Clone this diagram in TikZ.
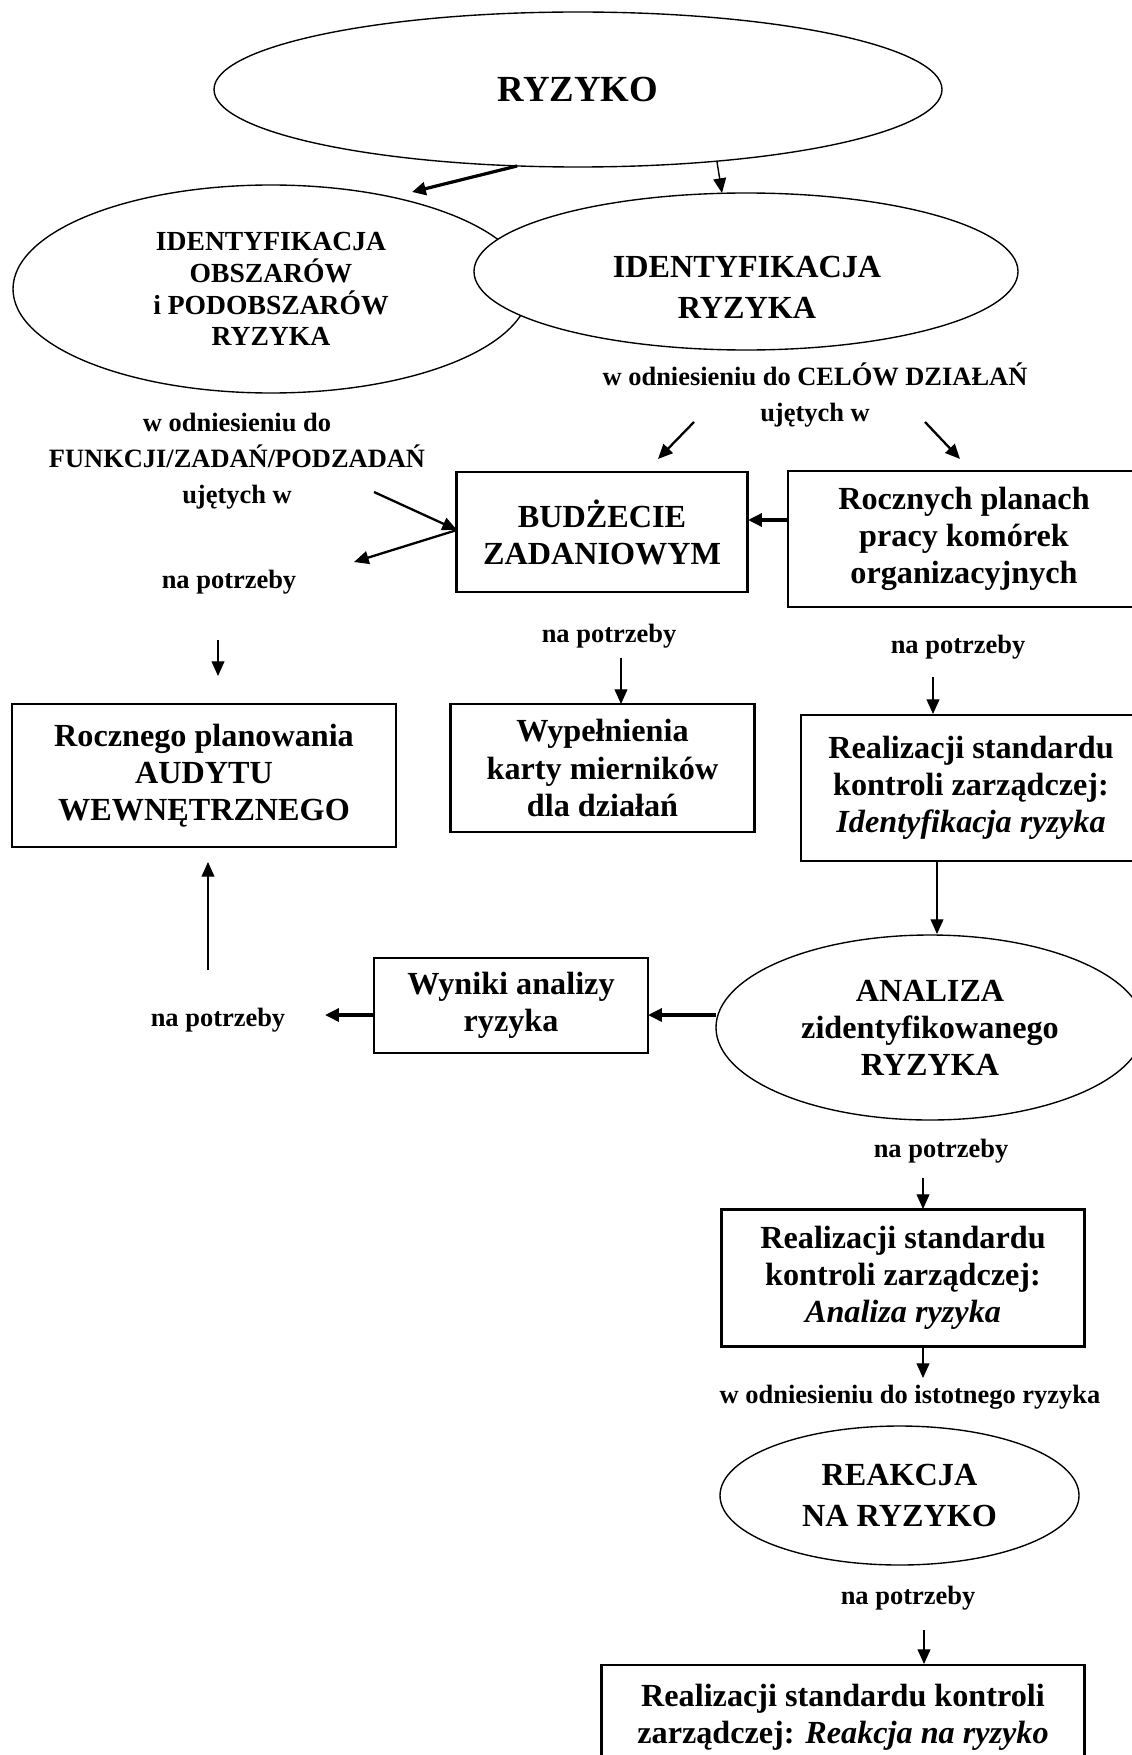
\documentclass[tikz,border=0pt]{standalone}
\usepackage{fontspec}
\setmainfont{Liberation Serif}
\usetikzlibrary{shapes.geometric,arrows.meta}
\def\pxu{0.4348pt}
\tikzset{
  ell/.style={draw, ellipse, inner sep=0pt, line width=0.6pt, fill=white, align=center},
  box/.style={draw, rectangle, inner sep=0pt, line width=0.9pt, fill=white, align=center,
    font=\fontsize{14}{16.1}\selectfont\bfseries},
  lbl/.style={align=center, inner sep=0pt, font=\fontsize{11.5}{15.6}\selectfont\bfseries},
  arr/.style={-{Triangle[length=6.4pt,width=5.6pt]}, line width=0.6pt},
  marr/.style={-{Triangle[length=6.4pt,width=5.6pt]}, line width=1pt},
  tarr/.style={-{Triangle[length=6pt,width=5.6pt]}, line width=1.4pt},
}
\begin{document}
\begin{tikzpicture}[x=\pxu,y=-\pxu]
\clip (0,0) rectangle (1132,1755);
\fill[white] (0,0) rectangle (1132,1755);

% ellipses top
\node[ell, minimum width=728*\pxu, minimum height=155*\pxu,
  font=\fontsize{16}{18}\selectfont\bfseries] (ryz) at (578,89.5) {RYZYKO};
\node[ell, minimum width=516*\pxu, minimum height=208*\pxu,
  font=\fontsize{12}{13.8}\selectfont\bfseries] (idobs) at (271,289)
  {IDENTYFIKACJA\\OBSZARÓW\\i PODOBSZARÓW\\RYZYKA};
\node[ell, minimum width=544*\pxu, minimum height=157*\pxu] (idryz) at (746,271.5) {};
\node[align=center, inner sep=0pt, font=\fontsize{14}{17.8}\selectfont\bfseries]
  (idryzt) at (747,287.5) {IDENTYFIKACJA\\RYZYKA};

% labels
\node[lbl] (l1) at (815,395) {w odniesieniu do CELÓW DZIAŁAŃ\\ujętych w};
\node[lbl] (l2) at (237,461) {w odniesieniu do\\FUNKCJI/ZADAŃ/PODZADAŃ\\ujętych w};
\node[lbl] (l3) at (229,582) {na potrzeby};
\node[lbl] (l4) at (609,636) {na potrzeby};
\node[lbl] (l5) at (958,647) {na potrzeby};
\node[lbl] (l6) at (218,1020) {na potrzeby};
\node[lbl] (l7) at (941,1151) {na potrzeby};
\node[lbl] (l8) at (910,1397) {w odniesieniu do istotnego ryzyka};
\node[lbl] (l9) at (908,1598) {na potrzeby};

% boxes
\node[box, minimum width=291*\pxu, minimum height=120*\pxu] (bud) at (602,532)
  {BUDŻECIE\\ZADANIOWYM};
\node[box, minimum width=352*\pxu, minimum height=136*\pxu] (roczn) at (964,539)
  {Rocznych planach\\pracy komórek\\organizacyjnych};
\node[box, minimum width=384*\pxu, minimum height=143*\pxu] (audyt) at (204,775.5)
  {Rocznego planowania\\AUDYTU\\WEWNĘTRZNEGO};
\node[box, minimum width=304*\pxu, minimum height=128*\pxu] (wyp) at (602.5,768)
  {Wypełnienia\\karty mierników\\dla działań};
\node[box, minimum width=340*\pxu, minimum height=146*\pxu] (realid) at (971,788)
  {Realizacji standardu\\kontroli zarządczej:\\\textit{Identyfikacja ryzyka}};
\node[box, minimum width=274*\pxu, minimum height=95*\pxu] (wyn) at (511,1005.5)
  {Wyniki analizy\\ryzyka};
\node[ell, minimum width=428*\pxu, minimum height=185*\pxu,
  font=\fontsize{14}{16.1}\selectfont\bfseries] (anal) at (930,1027.5)
  {ANALIZA\\zidentyfikowanego\\RYZYKA};
\node[box, minimum width=363*\pxu, minimum height=137*\pxu] (realan) at (903,1278)
  {Realizacji standardu\\kontroli zarządczej:\\\textit{Analiza ryzyka}};
\node[ell, minimum width=359*\pxu, minimum height=139*\pxu,
  font=\fontsize{14}{17.8}\selectfont\bfseries] (reak) at (899.5,1495.5)
  {REAKCJA\\NA RYZYKO};
\node[box, minimum width=483*\pxu, minimum height=104*\pxu] (realre) at (843,1717)
  {Realizacji standardu kontroli\\zarządczej: \textit{Reakcja na ryzyko}};

% connector end points
\coordinate (c1) at (517,166);  \coordinate (c1e) at (412,192);
\coordinate (c2) at (717,162);  \coordinate (c2e) at (722,193);
\coordinate (c3) at (694,422);  \coordinate (c3e) at (658,459);
\coordinate (c4) at (925,422);  \coordinate (c4e) at (960,459);
\coordinate (c5) at (374,492);  \coordinate (c5e) at (457,530);
\coordinate (c6e) at (354,562);
\coordinate (c7) at (789,520);  \coordinate (c7e) at (748,520);
\coordinate (c8) at (218,640);  \coordinate (c8e) at (218,676);
\coordinate (c9) at (621,658);  \coordinate (c9e) at (621,704);
\coordinate (c10) at (933,677); \coordinate (c10e) at (933,714);
\coordinate (c11) at (937,861); \coordinate (c11e) at (937,934);
\coordinate (c12) at (208,970); \coordinate (c12e) at (208,862);
\coordinate (c13) at (716,1015); \coordinate (c13e) at (648,1015);
\coordinate (c14) at (374,1015); \coordinate (c14e) at (325,1015);
\coordinate (c15) at (923,1178); \coordinate (c15e) at (923,1209);
\coordinate (c16) at (923,1347); \coordinate (c16e) at (923,1378);
\coordinate (c17) at (924,1630); \coordinate (c17e) at (924,1664);

\draw[tarr] (c1) -- (c1e);
\draw[arr] (c2) -- (c2e);
\draw[marr] (c3) -- (c3e);
\draw[marr] (c4) -- (c4e);
\draw[marr] (c5) -- (c5e);
\draw[marr] (c5e) -- (c6e);
\draw[tarr] (c7) -- (c7e);
\draw[arr] (c8) -- (c8e);
\draw[arr] (c9) -- (c9e);
\draw[arr] (c10) -- (c10e);
\draw[arr] (c11) -- (c11e);
\draw[arr] (c12) -- (c12e);
\draw[tarr] (c13) -- (c13e);
\draw[tarr] (c14) -- (c14e);
\draw[arr] (c15) -- (c15e);
\draw[arr] (c16) -- (c16e);
\draw[arr] (c17) -- (c17e);
\end{tikzpicture}
\end{document}
